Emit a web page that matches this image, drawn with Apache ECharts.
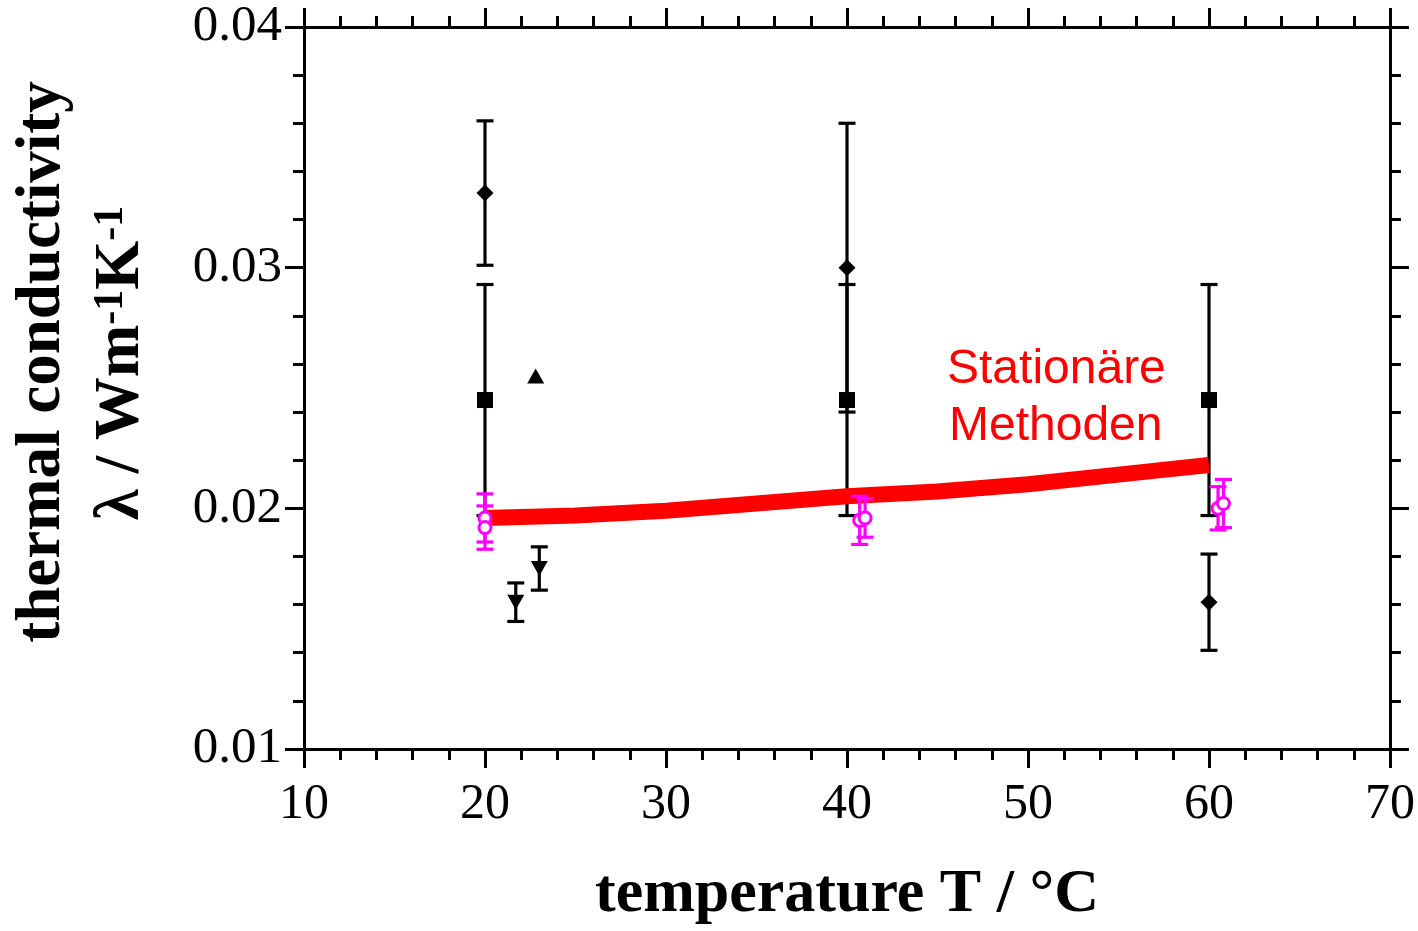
<!DOCTYPE html>
<html>
<head>
<meta charset="utf-8">
<script src="https://cdn.jsdelivr.net/npm/echarts@6/dist/echarts.min.js"></script>
<style>
  html, body { margin: 0; padding: 0; background: #ffffff; }
  #chart { width: 1418px; height: 931px; }
</style>
</head>
<body>
<div id="chart"></div>
<script>
// Axis ranges and tick steps
const tempRange = [10, 70];
const tempStep = 10;
const lambdaRange = [0.01, 0.04];
const lambdaStep = 0.01;

// Black filled diamonds with error bars
const diamondT = [20, 40, 60];
const diamondVal = [0.0331, 0.0300, 0.0161];
const diamondErr = [0.0030, 0.0060, 0.0020];

// Black filled squares with error bars
const squareT = [20, 40, 60];
const squareVal = [0.0245, 0.0245, 0.0245];
const squareErr = [0.0048, 0.0048, 0.0048];

// Black up triangle (no error bar)
const upTriT = [22.8];
const upTriVal = [0.0255];

// Black down triangles with error bars
const downTriT = [21.7, 23.0];
const downTriVal = [0.0161, 0.0175];
const downTriErr = [0.0008, 0.0009];

// Magenta open circles with error bars
const circleT = [20, 20, 40.7, 41.0, 60.5, 60.8];
const circleVal = [0.0196, 0.0192, 0.0195, 0.0196, 0.0200, 0.0202];
const circleErr = [0.0010, 0.0009, 0.0010, 0.0008, 0.0009, 0.0010];

// Band of the steady-state methods
const bandT = [20, 25, 30, 35, 40, 45, 50, 55, 60];
const bandVal = [0.0196, 0.0197, 0.0199, 0.0202, 0.0205, 0.0207, 0.0210, 0.0214, 0.0218];

const SERIF = '"Liberation Serif", "Times New Roman", serif';
const SANS = '"Liberation Sans", Arial, sans-serif';

function points(ts, vs) {
  return ts.map((t, i) => [t, vs[i]]);
}
function bars(ts, vs, es) {
  return ts.map((t, i) => [t, vs[i] - es[i], vs[i] + es[i]]);
}

function errorBarRenderer(color, capHalf) {
  return function (params, api) {
    const x = api.value(0);
    const hi = api.coord([x, api.value(2)]);
    const lo = api.coord([x, api.value(1)]);
    const style = { stroke: color, lineWidth: 3.2 };
    return {
      type: 'group',
      children: [
        { type: 'line', shape: { x1: hi[0], y1: hi[1], x2: lo[0], y2: lo[1] }, style: style },
        { type: 'line', shape: { x1: hi[0] - capHalf, y1: hi[1], x2: hi[0] + capHalf, y2: hi[1] }, style: style },
        { type: 'line', shape: { x1: lo[0] - capHalf, y1: lo[1], x2: lo[0] + capHalf, y2: lo[1] }, style: style }
      ]
    };
  };
}

function errorSeries(data, color, capHalf, z) {
  return {
    type: 'custom',
    renderItem: errorBarRenderer(color, capHalf),
    encode: { x: 0, y: [1, 2] },
    data: data,
    z: z,
    silent: true
  };
}

function markerSeries(data, symbol, size, color, rotate, z) {
  return {
    type: 'scatter',
    data: data,
    symbol: symbol,
    symbolSize: size,
    symbolRotate: rotate || 0,
    itemStyle: { color: color, opacity: 1 },
    z: z,
    silent: true
  };
}

const axisLineStyle = { lineStyle: { color: '#000', width: 3 } };
const majorTick = { show: true, length: 19, lineStyle: { color: '#000', width: 3 } };
const minorTick = { show: true, splitNumber: 5, length: 11, lineStyle: { color: '#000', width: 3 } };

function xAxisDef(position, withLabels) {
  return {
    type: 'value',
    position: position,
    min: tempRange[0],
    max: tempRange[1],
    interval: tempStep,
    axisLine: axisLineStyle,
    axisTick: majorTick,
    minorTick: minorTick,
    splitLine: { show: false },
    axisLabel: {
      show: withLabels,
      color: '#000',
      fontFamily: SERIF,
      fontSize: 50,
      margin: 31
    },
    name: withLabels ? 'temperature T / °C' : '',
    nameLocation: 'middle',
    nameGap: 115,
    nameTextStyle: { color: '#000', fontFamily: SERIF, fontWeight: 'bold', fontSize: 62 }
  };
}

function yAxisDef(position, withLabels) {
  return {
    type: 'value',
    position: position,
    min: lambdaRange[0],
    max: lambdaRange[1],
    interval: lambdaStep,
    axisLine: axisLineStyle,
    axisTick: majorTick,
    minorTick: minorTick,
    splitLine: { show: false },
    axisLabel: {
      show: withLabels,
      color: '#000',
      fontFamily: SERIF,
      fontSize: 51,
      margin: 22,
      formatter: v => v.toFixed(2)
    }
  };
}

const chart = echarts.init(document.getElementById('chart'), null, { renderer: 'canvas' });

chart.setOption({
  animation: false,
  backgroundColor: '#ffffff',
  grid: { left: 304, right: 27, top: 27, bottom: 179, containLabel: false },
  xAxis: [xAxisDef('bottom', true), xAxisDef('top', false)],
  yAxis: [yAxisDef('left', true), yAxisDef('right', false)],
  series: [
    // black error bars
    errorSeries(bars(diamondT, diamondVal, diamondErr), '#000', 8.5, 2),
    errorSeries(bars(squareT, squareVal, squareErr), '#000', 8.5, 2),
    errorSeries(bars(downTriT, downTriVal, downTriErr), '#000', 8.5, 2),
    // black markers
    markerSeries(points(diamondT, diamondVal), 'diamond', [17, 17], '#000', 0, 3),
    markerSeries(points(squareT, squareVal), 'rect', [16, 16], '#000', 0, 3),
    markerSeries(points(upTriT, upTriVal), 'triangle', [17, 15], '#000', 0, 3),
    markerSeries(points(downTriT, downTriVal), 'triangle', [17, 15], '#000', 180, 3),
    // steady-state band
    {
      type: 'line',
      data: points(bandT, bandVal),
      showSymbol: false,
      symbol: 'none',
      smooth: false,
      lineStyle: { color: '#ff0000', width: 16, cap: 'butt', join: 'round' },
      z: 4,
      silent: true
    },
    // magenta circles with error bars
    errorSeries(bars(circleT, circleVal, circleErr), '#ff00ff', 8.5, 5),
    {
      type: 'scatter',
      data: points(circleT, circleVal),
      symbol: 'circle',
      symbolSize: 12,
      itemStyle: { color: '#ffffff', borderColor: '#ff00ff', borderWidth: 3, opacity: 1 },
      z: 6,
      silent: true
    }
  ],
  graphic: [
    {
      type: 'text',
      x: 43, y: 362,
      rotation: Math.PI / 2,
      style: {
        text: 'thermal conductivity',
        fill: '#000',
        fontFamily: SERIF,
        fontWeight: 'bold',
        fontSize: 63,
        align: 'center',
        verticalAlign: 'middle'
      }
    },
    {
      type: 'text',
      x: 122, y: 363,
      rotation: Math.PI / 2,
      style: {
        text: '{a|λ / Wm}{s|-1}{a|K}{s|-1}',
        fill: '#000',
        align: 'center',
        verticalAlign: 'middle',
        rich: {
          a: { fontFamily: SERIF, fontWeight: 'bold', fontSize: 63, fill: '#000' },
          s: { fontFamily: SERIF, fontWeight: 'bold', fontSize: 42, fill: '#000', verticalAlign: 'top' }
        }
      }
    },
    {
      type: 'text',
      x: 947, y: 370,
      style: {
        text: 'Stationäre',
        fill: '#ff0000',
        fontFamily: SANS,
        fontSize: 48,
        align: 'left',
        verticalAlign: 'middle'
      }
    },
    {
      type: 'text',
      x: 949, y: 427,
      style: {
        text: 'Methoden',
        fill: '#ff0000',
        fontFamily: SANS,
        fontSize: 48,
        align: 'left',
        verticalAlign: 'middle'
      }
    }
  ]
});
</script>
</body>
</html>
